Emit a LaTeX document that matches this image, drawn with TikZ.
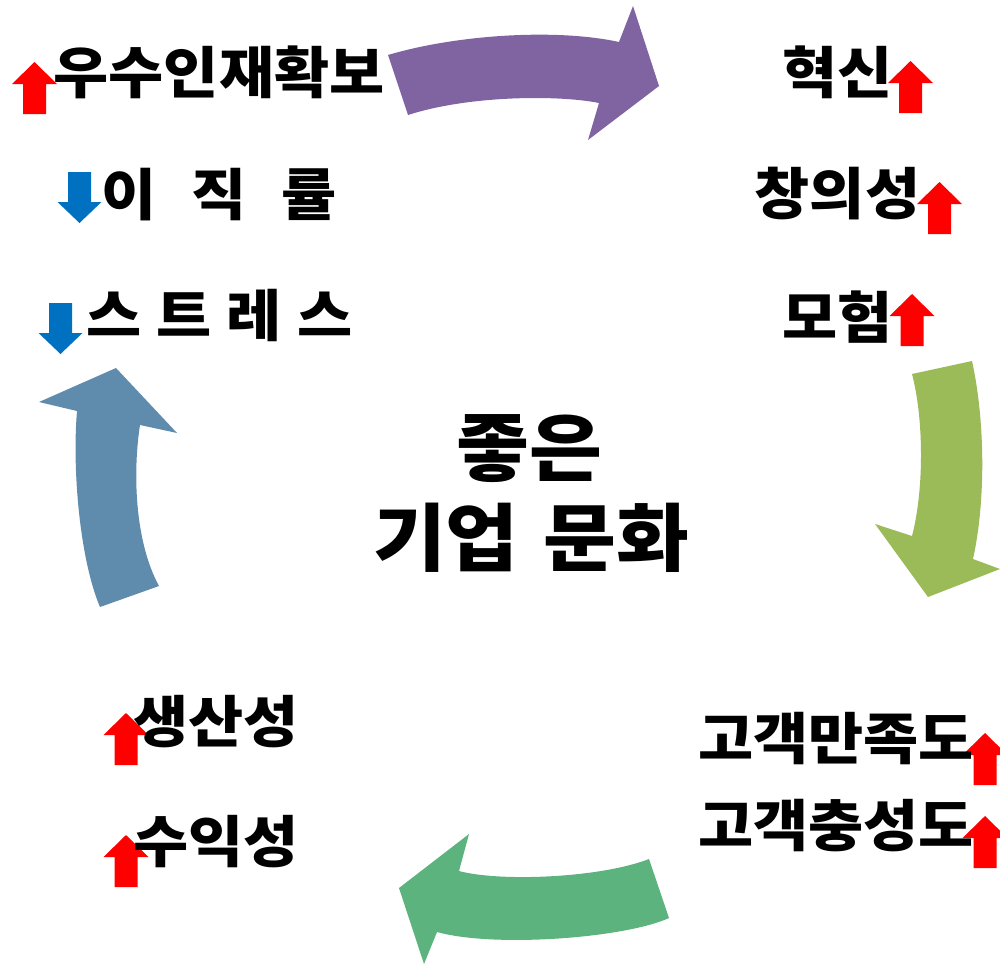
\documentclass[tikz,border=0pt]{standalone}
\usepackage{fontspec}
\newfontfamily\kr{Noto Sans CJK KR}[FakeStretch=1.07]
\definecolor{upred}{HTML}{FF0000}
\definecolor{downblue}{HTML}{0070C0}
\definecolor{arrpurple}{HTML}{8064A2}
\definecolor{arrlime}{HTML}{9BBB59}
\definecolor{arrgreen}{HTML}{5CB37D}
\definecolor{arrblue}{HTML}{5F8CAD}
\newcommand\UpMark[2]{%
  \fill[upred] ({#1},{#2}) -- ({#1+22.5},{#2+22}) -- ({#1+11.5},{#2+22}) -- ({#1+11.5},{#2+52})
    -- ({#1-11.5},{#2+52}) -- ({#1-11.5},{#2+22}) -- ({#1-22.5},{#2+22}) -- cycle;}
\newcommand\DownMark[2]{%
  \fill[downblue] ({#1-11.5},{#2}) -- ({#1+11.5},{#2}) -- ({#1+11.5},{#2+30}) -- ({#1+22},{#2+30})
    -- ({#1},{#2+51}) -- ({#1-22},{#2+30}) -- ({#1-11.5},{#2+30}) -- cycle;}
\begin{document}
\begin{tikzpicture}[x=0.5pt,y=-0.5pt,
  lbl/.style={font=\kr\bfseries\fontsize{28pt}{34pt}\selectfont, inner sep=0pt,
              text height=24.6pt, text depth=3.4pt, anchor=center},
  ttl/.style={font=\kr\bfseries\fontsize{37pt}{45pt}\selectfont, inner sep=0pt,
              text height=32.6pt, text depth=4.4pt, anchor=center}]
\useasboundingbox[fill=white] (0,0) rectangle (1000,965);

% big cycle arrows
\fill[arrpurple] (388,55) .. controls (455,35) and (555,28) .. (619,42)
  -- (633,6) -- (659,86) -- (588,140) -- (599,103)
  .. controls (560,95) and (470,95) .. (408,115) -- cycle;
\fill[arrlime] (912,374) -- (972,361) .. controls (985,420) and (986,500) .. (973,559)
  -- (1000,569) -- (928,597) -- (875,524) -- (912,536)
  .. controls (924,490) and (924,420) .. (912,374) -- cycle;
\fill[arrgreen] (649,859) -- (669,918) .. controls (625,938) and (495,948) .. (437,932)
  -- (424,964) -- (399,888) -- (469,834) -- (459,871)
  .. controls (500,882) and (600,878) .. (649,859) -- cycle;
\fill[arrblue] (116,368) -- (177,433) -- (140,425)
  .. controls (133,470) and (134,540) .. (159,586) -- (100,607)
  .. controls (80,560) and (72,470) .. (77,411) -- (39,402) -- cycle;

% small trend arrows
\UpMark{34.5}{62}
\DownMark{79.5}{172}
\DownMark{60.5}{303}
\UpMark{910.5}{61}
\UpMark{939.5}{182}
\UpMark{912}{294}
\UpMark{985}{733}
\UpMark{985}{816}
\UpMark{126}{713}
\UpMark{126}{835}

% labels
\node[lbl] (talent) at (219,72) {우수인재확보};
\node[lbl] (turnover) at (219,194) {이\hspace{17.5pt}직\hspace{17.5pt}률};
\node[lbl] (stress) at (219.5,315) {스\hspace{7.5pt}트\hspace{7.5pt}레\hspace{7.5pt}스};
\node[lbl] (innov) at (837.5,72) {혁신};
\node[lbl] (creat) at (837.5,193.5) {창의성};
\node[lbl] (risk) at (837.5,317) {모험};
\node[lbl] (satis) at (836,738) {고객만족도};
\node[lbl] (loyal) at (836,825) {고객충성도};
\node[lbl] (prod) at (216,721) {생산성};
\node[lbl] (profit) at (216,841) {수익성};
\node[ttl] (title1) at (529,447) {좋은};
\node[ttl] (title2) at (531,537) {기업\hspace{0.33em}문화};
\end{tikzpicture}
\end{document}
